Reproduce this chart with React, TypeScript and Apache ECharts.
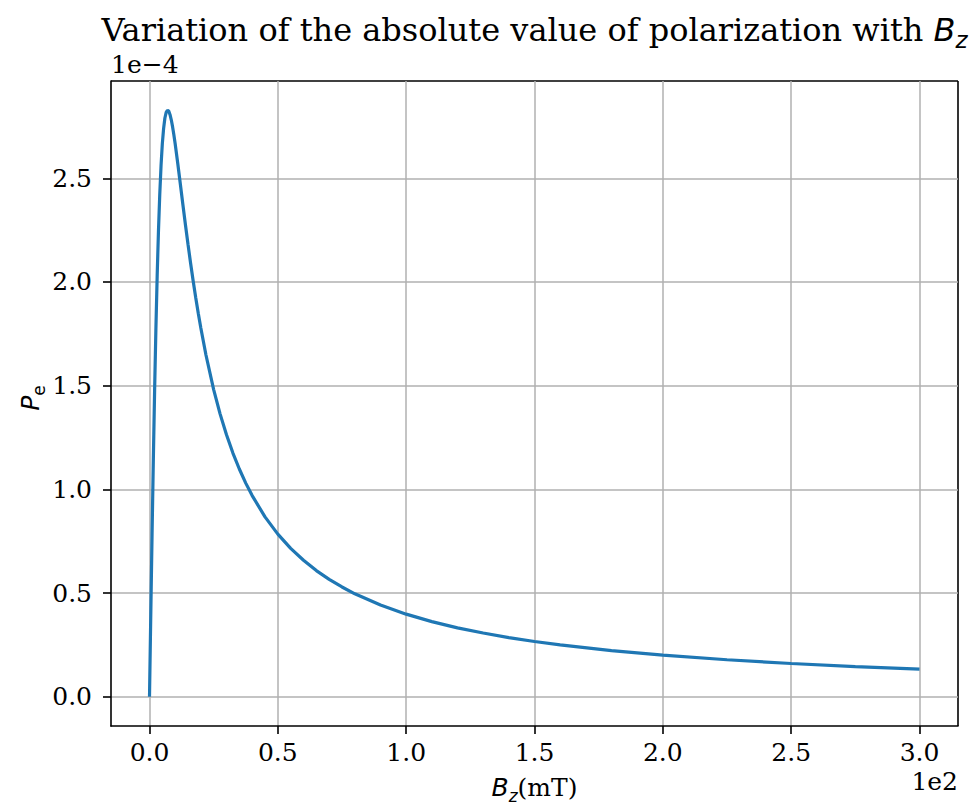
import React, { useEffect, useRef } from "react";
import * as echarts from "echarts";

// B_z in mT
const bzValues = [
  0, 0.5, 1, 1.5, 2, 2.5, 3, 3.5, 4, 4.5, 5, 5.5, 6, 6.5, 7, 7.5, 8, 8.5, 9, 9.5, 10, 11, 12, 13,
  14, 15, 16, 17, 18, 19, 20, 22, 25, 27.5, 30, 32.5, 35, 37.5, 40, 45, 50, 55, 60, 65, 70, 75, 80,
  90, 100, 110, 120, 130, 140, 150, 160, 180, 200, 225, 250, 275, 300,
];
// P_e in units of 1e-4
const peValues = [
  0, 0.398, 0.784, 1.148, 1.481, 1.778, 2.034, 2.249, 2.424, 2.562, 2.667, 2.741, 2.791, 2.818,
  2.828, 2.824, 2.807, 2.781, 2.748, 2.709, 2.667, 2.573, 2.474, 2.374, 2.276, 2.182, 2.092, 2.006,
  1.925, 1.849, 1.778, 1.648, 1.481, 1.364, 1.263, 1.175, 1.098, 1.03, 0.97, 0.867, 0.784, 0.715,
  0.658, 0.608, 0.566, 0.529, 0.496, 0.442, 0.398, 0.362, 0.332, 0.307, 0.285, 0.266, 0.25, 0.222,
  0.2, 0.178, 0.16, 0.145, 0.133,
];
const xTicks = [0, 50, 100, 150, 200, 250, 300];
const yTicks = [0, 0.5, 1.0, 1.5, 2.0, 2.5];

const titleText = "Variation of the absolute value of polarization with ";
const xOffsetText = "1e2";
const yOffsetText = "1e\u22124";

const SERIF = "DejaVu Serif";
const SANS = "DejaVu Sans";

export default function App() {
  const ref = useRef<HTMLDivElement>(null);
  useEffect(() => {
    if (!ref.current) return;
    const chart = echarts.init(ref.current, null, { renderer: "svg" });
    const data = bzValues.map((b, i) => [b, peValues[i]]);
    chart.setOption({
      animation: false,
      backgroundColor: "#ffffff",
      grid: { left: 111, right: 13, top: 81, bottom: 81, containLabel: false },
      xAxis: {
        type: "value",
        min: -15,
        max: 315,
        axisLine: { show: true, onZero: false, lineStyle: { color: "#000", width: 1.6 } },
        axisTick: { show: true, customValues: xTicks, length: 8, lineStyle: { color: "#000", width: 1.6 } },
        axisLabel: {
          customValues: xTicks,
          formatter: (v: number) => (v / 100).toFixed(1),
          fontFamily: SERIF,
          fontSize: 25,
          color: "#000",
          margin: 14,
        },
        splitLine: { show: true, lineStyle: { color: "#b0b0b0", width: 1.5 } },
      },
      yAxis: {
        type: "value",
        min: -0.1414,
        max: 2.9694,
        axisLine: { show: true, onZero: false, lineStyle: { color: "#000", width: 1.6 } },
        axisTick: { show: true, customValues: yTicks, length: 8, lineStyle: { color: "#000", width: 1.6 } },
        axisLabel: {
          customValues: yTicks,
          formatter: (v: number) => v.toFixed(1),
          fontFamily: SERIF,
          fontSize: 25,
          color: "#000",
          margin: 19,
        },
        splitLine: { show: true, lineStyle: { color: "#b0b0b0", width: 1.5 } },
      },
      series: [
        {
          type: "line",
          data,
          showSymbol: false,
          smooth: false,
          lineStyle: { color: "#1f77b4", width: 3.2 },
          itemStyle: { color: "#1f77b4" },
        },
      ],
      graphic: [
        { type: "line", shape: { x1: 111, y1: 81, x2: 958, y2: 81 }, style: { stroke: "#000", lineWidth: 1.6 } },
        { type: "line", shape: { x1: 958, y1: 81, x2: 958, y2: 726 }, style: { stroke: "#000", lineWidth: 1.6 } },
        {
          type: "text",
          x: 534.5,
          y: 30,
          style: {
            text: `{t|${titleText}}{b|B}{s|z}`,
            align: "center",
            verticalAlign: "middle",
            rich: {
              t: { fontFamily: SERIF, fontSize: 32, color: "#000", lineHeight: 42, verticalAlign: "middle" },
              b: { fontFamily: SANS, fontStyle: "italic", fontSize: 32, color: "#000", lineHeight: 42, verticalAlign: "middle" },
              s: { fontFamily: SANS, fontStyle: "italic", fontSize: 23, color: "#000", lineHeight: 42, verticalAlign: "bottom" },
            },
          },
        },
        {
          type: "text",
          x: 111,
          y: 64,
          style: { text: yOffsetText, fontFamily: SERIF, fontSize: 25, fill: "#000", align: "left", verticalAlign: "middle" },
        },
        {
          type: "text",
          x: 958,
          y: 781,
          style: { text: xOffsetText, fontFamily: SERIF, fontSize: 25, fill: "#000", align: "right", verticalAlign: "middle" },
        },
        {
          type: "text",
          x: 534.5,
          y: 787,
          style: {
            text: "{b|B}{s|z}{t|(mT)}",
            align: "center",
            verticalAlign: "middle",
            rich: {
              t: { fontFamily: SERIF, fontSize: 25, color: "#000", lineHeight: 34, verticalAlign: "middle" },
              b: { fontFamily: SANS, fontStyle: "italic", fontSize: 25, color: "#000", lineHeight: 34, verticalAlign: "middle" },
              s: { fontFamily: SANS, fontStyle: "italic", fontSize: 17, color: "#000", lineHeight: 34, verticalAlign: "bottom" },
            },
          },
        },
        {
          type: "text",
          x: 30,
          y: 398,
          rotation: Math.PI / 2,
          style: {
            text: "{b|P}{s|e}",
            align: "center",
            verticalAlign: "middle",
            rich: {
              b: { fontFamily: SANS, fontStyle: "italic", fontSize: 25, color: "#000", lineHeight: 34, verticalAlign: "middle" },
              s: { fontFamily: SANS, fontSize: 17, color: "#000", lineHeight: 34, verticalAlign: "bottom" },
            },
          },
        },
      ],
    });
    return () => chart.dispose();
  }, []);
  return <div ref={ref} style={{ position: "fixed", left: 0, top: 0, width: 971, height: 807 }} />;
}
